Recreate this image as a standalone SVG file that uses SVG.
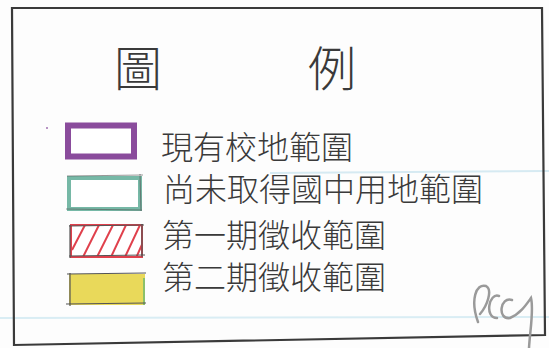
<svg xmlns="http://www.w3.org/2000/svg" width="549" height="348" viewBox="0 0 549 348">
<style>
.t{font-family:"Noto Sans CJK TC","Noto Sans CJK SC",sans-serif;fill:#3a3a3a;font-weight:300}
.title{font-size:48px}
.row{font-size:32px}
.pencil{fill:none;stroke:#555;stroke-width:1.2}
</style>
<defs>
<clipPath id="hc"><rect x="72" y="226" width="70" height="30"/></clipPath>
</defs>
<rect width="549" height="348" fill="#fdfdfd"/>
<line x1="270" y1="173" x2="549" y2="171" stroke="#d6eaf2" stroke-width="2"/>
<line x1="0" y1="318" x2="549" y2="317" stroke="#d9edf4" stroke-width="2"/>
<polygon points="12,8 542,8 545,335 14,345" fill="none" stroke="#3a3a3a" stroke-width="2.2"/>
<g id="title">
<text class="t title" x="114" y="86">圖</text>
<text class="t title" x="308" y="86">例</text>
</g>
<g id="item1">
<circle cx="47" cy="128" r="1" fill="#a070b0"/>
<rect x="68" y="125.5" width="66" height="31" fill="#fff" stroke="#8a4c9c" stroke-width="6"/>
<text class="t row" x="161" y="159">現有校地範圍</text>
</g>
<g id="item2">
<rect x="69" y="178" width="71" height="31" fill="#fff" stroke="#76b8a6" stroke-width="4"/>
<path class="pencil" d="M67,176 L143,175 M140,174 L141,211 M66,209 L142,210" stroke-opacity="0.6"/>
<text class="t row" x="163" y="201">尚未取得國中用地範圍</text>
</g>
<g id="item3">
<rect x="71" y="225" width="71" height="32" fill="#fff" stroke="#e0404c" stroke-width="2"/>
<g clip-path="url(#hc)" stroke="#e0404c" stroke-width="2">
<line x1="72" y1="250" x2="85" y2="225"/>
<line x1="83" y1="257" x2="99" y2="225"/>
<line x1="97" y1="257" x2="113" y2="225"/>
<line x1="111" y1="257" x2="126" y2="225"/>
<line x1="125" y1="257" x2="140" y2="225"/>
<line x1="136" y1="258" x2="144" y2="240"/>
</g>
<path class="pencil" d="M69,226 L144,225 M69,256 L145,255 M70,225 L70,258 M142,224 L142,257"/>
<text class="t row" x="162" y="247">第一期徵收範圍</text>
</g>
<g id="item4">
<rect x="69" y="274" width="76" height="31" fill="#e9d95a"/>
<line x1="144" y1="278" x2="144" y2="305" stroke="#8cc06a" stroke-width="2"/>
<path class="pencil" d="M67,274 L146,273 M70,273 L70,306 M66,304 L146,303"/>
<text class="t row" x="162" y="289">第二期徵收範圍</text>
</g>
<path d="M478,322 C470,300 476,283 486,286 C493,290 487,306 480,314 M499,296 C489,292 484,318 497,318 M512,300 C500,296 497,320 510,318 C520,314 526,305 531,298 C534,310 530,330 529,348" fill="none" stroke="#9a9a9a" stroke-width="2.5" stroke-linecap="round"/>
</svg>
